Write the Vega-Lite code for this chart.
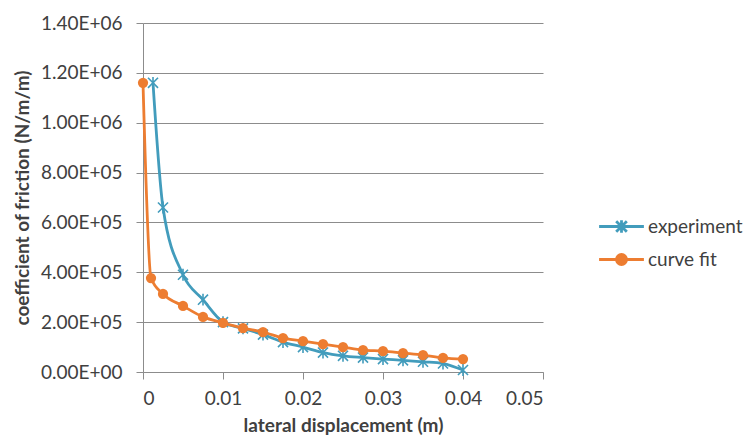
{
  "$schema": "https://vega.github.io/schema/vega-lite/v6.json",
  "width": 400,
  "height": 349,
  "autosize": {"type": "none"},
  "padding": {"left": 143, "top": 23, "right": 203, "bottom": 71},
  "background": "white",
  "config": {
    "view": {"stroke": null},
    "font": "Lato",
    "axis": {
      "labelFont": "Lato",
      "titleFont": "Lato",
      "labelColor": "#404040",
      "titleColor": "#404040",
      "domainColor": "#8c8c8c",
      "tickColor": "#8c8c8c",
      "gridColor": "#8c8c8c",
      "labelFontSize": 19,
      "titleFontSize": 19,
      "titleFontWeight": "bold"
    }
  },
  "data": {
    "values": [
      {"x": 0.00125, "y": 1160000, "series": "experiment"},
      {"x": 0.0025, "y": 660000, "series": "experiment"},
      {"x": 0.005, "y": 390000, "series": "experiment"},
      {"x": 0.0075, "y": 290000, "series": "experiment"},
      {"x": 0.01, "y": 200000, "series": "experiment"},
      {"x": 0.0125, "y": 175000, "series": "experiment"},
      {"x": 0.015, "y": 150000, "series": "experiment"},
      {"x": 0.0175, "y": 120000, "series": "experiment"},
      {"x": 0.02, "y": 100000, "series": "experiment"},
      {"x": 0.0225, "y": 78000, "series": "experiment"},
      {"x": 0.025, "y": 65000, "series": "experiment"},
      {"x": 0.0275, "y": 58000, "series": "experiment"},
      {"x": 0.03, "y": 52000, "series": "experiment"},
      {"x": 0.0325, "y": 47000, "series": "experiment"},
      {"x": 0.035, "y": 41000, "series": "experiment"},
      {"x": 0.0375, "y": 34000, "series": "experiment"},
      {"x": 0.04, "y": 8000, "series": "experiment"},
      {"x": 0, "y": 1160000, "series": "curve fit"},
      {"x": 0.001, "y": 377000, "series": "curve fit"},
      {"x": 0.0025, "y": 313000, "series": "curve fit"},
      {"x": 0.005, "y": 265000, "series": "curve fit"},
      {"x": 0.0075, "y": 221000, "series": "curve fit"},
      {"x": 0.01, "y": 197000, "series": "curve fit"},
      {"x": 0.0125, "y": 176000, "series": "curve fit"},
      {"x": 0.015, "y": 160000, "series": "curve fit"},
      {"x": 0.0175, "y": 136000, "series": "curve fit"},
      {"x": 0.02, "y": 124000, "series": "curve fit"},
      {"x": 0.0225, "y": 112000, "series": "curve fit"},
      {"x": 0.025, "y": 100000, "series": "curve fit"},
      {"x": 0.0275, "y": 88000, "series": "curve fit"},
      {"x": 0.03, "y": 84000, "series": "curve fit"},
      {"x": 0.0325, "y": 76000, "series": "curve fit"},
      {"x": 0.035, "y": 68000, "series": "curve fit"},
      {"x": 0.0375, "y": 57000, "series": "curve fit"},
      {"x": 0.04, "y": 52000, "series": "curve fit"}
    ]
  },
  "encoding": {
    "x": {
      "field": "x",
      "type": "quantitative",
      "scale": {"domain": [0, 0.05], "nice": false, "zero": false},
      "axis": {
        "title": "lateral displacement (m)",
        "values": [0, 0.01, 0.02, 0.03, 0.04, 0.05],
        "labelExpr": "datum.value == 0 ? '0' : format(datum.value, '.2f')",
        "grid": false,
        "tickSize": 7,
        "labelPadding": 10,
        "titlePadding": 8
      }
    },
    "y": {
      "field": "y",
      "type": "quantitative",
      "scale": {"domain": [0, 1400000], "nice": false},
      "axis": {
        "title": "coefficient of friction (N/m/m)",
        "values": [0, 200000, 400000, 600000, 800000, 1000000, 1200000, 1400000],
        "labelExpr": "datum.value >= 1000000 ? format(datum.value / 1000000, '.2f') + 'E+06' : (datum.value > 0 ? format(datum.value / 100000, '.2f') + 'E+05' : '0.00E+00')",
        "grid": true,
        "tickSize": 7,
        "labelPadding": 14,
        "titlePadding": 8
      }
    }
  },
  "layer": [
    {
      "transform": [{"filter": "datum.series == 'experiment'"}],
      "mark": {"type": "line", "interpolate": "monotone", "strokeWidth": 2.8},
      "encoding": {
        "color": {
          "field": "series",
          "type": "nominal",
          "scale": {"domain": ["experiment", "curve fit"], "range": ["#429CBC", "#ED7D31"]},
          "legend": {
            "orient": "none",
            "legendX": 463,
            "legendY": 188,
            "title": null,
            "padding": 0,
            "symbolSize": 784,
            "symbolStrokeWidth": 2.8,
            "labelFont": "Lato",
            "labelFontSize": 19,
            "labelColor": "#404040",
            "labelOffset": 11,
            "rowPadding": 5,
            "encode": {
              "symbols": {
                "update": {
                  "shape": {"signal": "datum.value == 'experiment' ? 'M-1.6,0L1.6,0M0,-0.45L0,0.45M-0.38,-0.38L0.38,0.38M-0.38,0.38L0.38,-0.38' : 'M-1.6,0L1.6,0M-0.36,0A0.36,0.36,0,1,0,0.36,0A0.36,0.36,0,1,0,-0.36,0Z'"},
                  "fill": {"signal": "datum.value == 'experiment' ? 'transparent' : '#ED7D31'"},
                  "stroke": {"signal": "datum.value == 'experiment' ? '#429CBC' : '#ED7D31'"},
                  "strokeWidth": {"value": 2.8}
                }
              }
            }
          }
        }
      }
    },
    {
      "transform": [{"filter": "datum.series == 'experiment'"}],
      "mark": {
        "type": "point",
        "shape": "M0,-1L0,1M-0.85,-0.85L0.85,0.85M-0.85,0.85L0.85,-0.85",
        "size": 140,
        "filled": false,
        "stroke": "#429CBC",
        "strokeWidth": 1.6,
        "opacity": 1
      }
    },
    {
      "transform": [{"filter": "datum.series == 'curve fit'"}],
      "mark": {"type": "line", "interpolate": "monotone", "strokeWidth": 2.8},
      "encoding": {
        "color": {"field": "series", "type": "nominal"}
      }
    },
    {
      "transform": [{"filter": "datum.series == 'curve fit'"}],
      "mark": {
        "type": "point",
        "shape": "circle",
        "size": 105,
        "filled": true,
        "fill": "#ED7D31",
        "opacity": 1
      }
    }
  ]
}
